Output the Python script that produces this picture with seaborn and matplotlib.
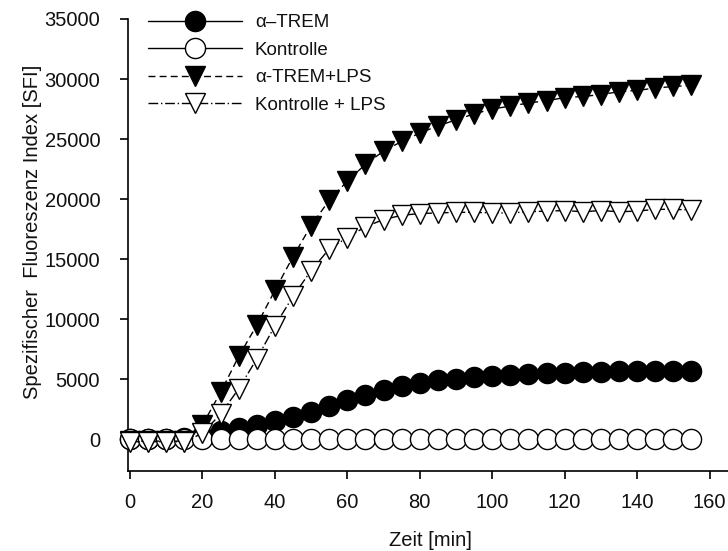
import numpy as np
import pandas as pd
import matplotlib
matplotlib.use("Agg")
import matplotlib.pyplot as plt
import seaborn as sns

# ---- data ----
time_min = [0, 5, 10, 15, 20, 25, 30, 35, 40, 45, 50, 55, 60, 65, 70, 75,
            80, 85, 90, 95, 100, 105, 110, 115, 120, 125, 130, 135, 140, 145, 150, 155]
alpha_trem = [0, 0, 0, 100, 300, 700, 950, 1200, 1500, 1850, 2250, 2800, 3250, 3700, 4100, 4400,
              4650, 4900, 5050, 5200, 5300, 5380, 5450, 5480, 5550, 5580, 5620, 5650, 5680, 5680, 5700, 5720]
kontrolle = [0, 0, 0, 0, 0, 0, 0, 0, 0, 0, 0, 0, 0, 0, 0, 0,
             0, 0, 0, 0, 0, 0, 0, 0, 0, 0, 0, 0, 0, 0, 0, 0]
alpha_trem_lps = [-150, -150, -150, -150, 1200, 3900, 6900, 9500, 12400, 15200, 17800, 19900, 21500, 22900, 24000, 24800,
                  25500, 26100, 26600, 27100, 27500, 27750, 28000, 28200, 28450, 28550, 28700, 28950, 29050, 29250, 29380, 29470]
kontrolle_lps = [-200, -200, -200, -200, 500, 2100, 4200, 6700, 9450, 11900, 14050, 15850, 16800, 17700, 18300, 18650,
                 18800, 18850, 18900, 18900, 18850, 18850, 18950, 19000, 19050, 18950, 19050, 18950, 19000, 19150, 19150, 19100]

labels = ["\u03b1\u2013TREM", "Kontrolle", "\u03b1-TREM+LPS", "Kontrolle + LPS"]
y_ticks = [0, 5000, 10000, 15000, 20000, 25000, 30000, 35000]
x_ticks = [0, 20, 40, 60, 80, 100, 120, 140, 160]

sns.set_style("ticks")
plt.rcParams['font.family'] = ['Liberation Sans', 'DejaVu Sans']
plt.rcParams['text.color'] = '#111111'
plt.rcParams['axes.labelcolor'] = '#111111'

fig = plt.figure(figsize=(7.28, 5.51), dpi=100)
ax = fig.add_axes([128 / 728, 80 / 551, 600 / 728, 452 / 551])

styles = [
    dict(marker="o", markerfacecolor="black", linestyle="-"),
    dict(marker="o", markerfacecolor="white", linestyle="-"),
    dict(marker="v", markerfacecolor="black", linestyle=(0, (5, 3))),
    dict(marker="v", markerfacecolor="white", linestyle=(0, (7, 2, 1, 2))),
]
series = [alpha_trem, kontrolle, alpha_trem_lps, kontrolle_lps]

for vals, lab, st, z in zip(series, labels, styles, [3, 4, 5, 6]):
    df = pd.DataFrame({"t": time_min, "v": vals})
    sns.lineplot(data=df, x="t", y="v", ax=ax, color="black", linewidth=1.0,
                 markersize=14.5, markeredgecolor="black", markeredgewidth=1.0,
                 label=lab, zorder=z, clip_on=False, **st)

ax.set_xlim(-0.55, 165.1)
ax.set_ylim(-2640, 35000)
ax.set_xticks(x_ticks)
ax.set_yticks(y_ticks)
ax.set_xticklabels([str(v) for v in x_ticks])
ax.set_yticklabels([str(v) for v in y_ticks])

for s in ["top", "right"]:
    ax.spines[s].set_visible(False)
for s in ["left", "bottom"]:
    ax.spines[s].set_linewidth(1.2)
    ax.spines[s].set_color("black")

ax.tick_params(axis="y", direction="out", length=6, width=1.2, pad=14, labelsize=14.5,
               color="black", labelcolor="#111111")
ax.tick_params(axis="x", direction="out", length=6, width=1.2, pad=10, labelsize=14.5,
               color="black", labelcolor="#111111")

ax.set_xlabel("Zeit [min]", fontsize=14.5, color="#111111")
ax.set_ylabel("Spezifischer  Fluoreszenz Index [SFI]", fontsize=14.5, color="#111111")
ax.xaxis.set_label_coords((430 - 128) / 600, (471 - 531) / 452)
ax.yaxis.set_label_coords((42 - 128) / 600, (471 - 232) / 452)

leg = ax.legend(loc="upper left", bbox_to_anchor=(135 / 728, 1 - 1 / 551),
                bbox_transform=fig.transFigure, frameon=False, fontsize=13.5,
                handlelength=5.0, handletextpad=0.7, labelspacing=0.55,
                borderpad=0.2, numpoints=1, labelcolor="#111111")

fig.savefig("out.png", dpi=100)
